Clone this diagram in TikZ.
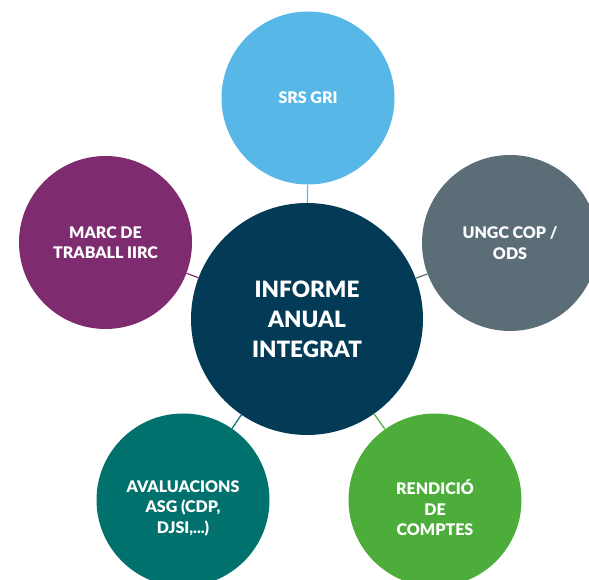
\documentclass[tikz,border=0pt]{standalone}
\usepackage{fontspec}
\setmainfont{Lato}[BoldFont={Lato Black}]
\usepackage{tikz}
\usetikzlibrary{calc}

\definecolor{navyIAI}{HTML}{033B57}
\definecolor{blueGRI}{HTML}{57B8E7}
\definecolor{purpleIIRC}{HTML}{7E2C6F}
\definecolor{greyUNGC}{HTML}{5B6E78}
\definecolor{tealASG}{HTML}{00716C}
\definecolor{greenRC}{HTML}{4DAD3B}

\begin{document}
\begin{tikzpicture}[
    x=1pt, y=1pt,
    % --- STYLES ---
    hub/.style={
        circle, fill=navyIAI, text=white,
        minimum size=232pt, inner sep=0pt,
        align=center, font=\fontsize{22.5}{30}\selectfont\bfseries
    },
    topic/.style={
        circle, fill=#1, text=white,
        minimum size=173pt, inner sep=0pt,
        align=center, font=\fontsize{16}{20.5}\selectfont\bfseries
    },
    lowtext/.style={
        text=white, align=center, yshift=-8pt,
        font=\fontsize{16}{20.5}\selectfont\bfseries
    },
    link/.style={draw=#1, line width=1.2pt}
]
\useasboundingbox (0,0) rectangle (589,580);

% ===== 1. CENTRAL NODE =====
\node[hub] (iai) at (307, 261) {INFORME\\ ANUAL\\ INTEGRAT};

% ===== 2. SURROUNDING NODES =====
\node[topic=blueGRI] (gri) at (308, 482) {SRS GRI};
\node[topic=purpleIIRC] (iirc) at (105.5, 337.5) {MARC DE\\ TRABALL IIRC};
\node[topic=greyUNGC, minimum size=176pt] (ungc) at (510, 337) {UNGC COP /\\ ODS};
% lower pair: text sits a little under the centre
\node[topic=tealASG, label={[lowtext]center:AVALUACIONS\\ ASG (CDP,\\ DJSI,...)}] (asg) at (183, 80) {};
\node[topic=greenRC, label={[lowtext]center:RENDICIÓ\\ DE\\ COMPTES}] (rc) at (435, 80) {};

% ===== 3. CONNECTIONS =====
\draw[link=blueGRI] (iai) -- (gri);
\draw[link=purpleIIRC] (iai) -- (iirc);
\draw[link=greyUNGC] (iai) -- (ungc);
\draw[link=tealASG] (iai) -- (asg);
\draw[link=greenRC] (iai) -- (rc);

\end{tikzpicture}
\end{document}
